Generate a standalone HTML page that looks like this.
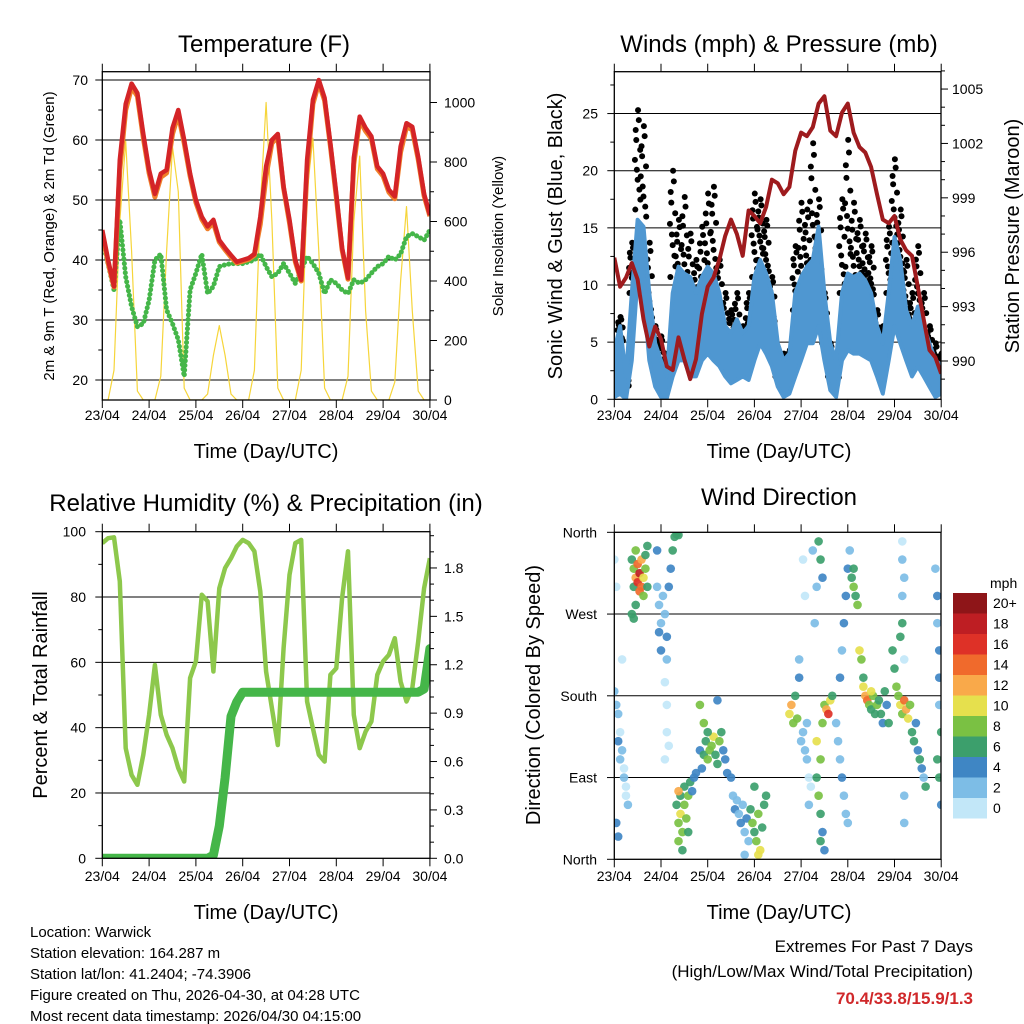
<!DOCTYPE html>
<html><head><meta charset="utf-8">
<style>
html,body{margin:0;padding:0;background:#fff;}
svg{display:block;font-family:"Liberation Sans",Arial,sans-serif;}
</style></head>
<body>
<svg id="chart" width="1024" height="1024" viewBox="0 0 1024 1024" xmlns="http://www.w3.org/2000/svg">
<defs>
<clipPath id="c1"><rect x="102.3" y="71.7" width="327.7" height="328.3"/></clipPath>
<clipPath id="c2"><rect x="614.3" y="71.7" width="326.7" height="327.6"/></clipPath>
<clipPath id="c3"><rect x="102.3" y="531.7" width="327.7" height="326.6"/></clipPath>
<clipPath id="c4"><rect x="614.3" y="532.3" width="326.7" height="327"/></clipPath>
</defs>
<rect width="1024" height="1024" fill="#fff"/>
<text x="264" y="52" font-size="24" text-anchor="middle">Temperature (F)</text>
<text x="779" y="52" font-size="24" text-anchor="middle">Winds (mph) &amp; Pressure (mb)</text>
<text x="266" y="511" font-size="24" text-anchor="middle">Relative Humidity (%) &amp; Precipitation (in)</text>
<text x="779" y="505" font-size="24" text-anchor="middle">Wind Direction</text>
<text x="266" y="458" font-size="20" text-anchor="middle">Time (Day/UTC)</text>
<text x="779" y="458" font-size="20" text-anchor="middle">Time (Day/UTC)</text>
<text x="266" y="919" font-size="20" text-anchor="middle">Time (Day/UTC)</text>
<text x="779" y="919" font-size="20" text-anchor="middle">Time (Day/UTC)</text>
<text transform="translate(54,236) rotate(-90)" font-size="15" text-anchor="middle">2m &amp; 9m T (Red, Orange) &amp; 2m Td (Green)</text>
<text transform="translate(503,236) rotate(-90)" font-size="15" text-anchor="middle">Solar Insolation (Yellow)</text>
<text transform="translate(562,236) rotate(-90)" font-size="20" text-anchor="middle">Sonic Wind &amp; Gust (Blue, Black)</text>
<text transform="translate(1019,236) rotate(-90)" font-size="20" text-anchor="middle">Station Pressure (Maroon)</text>
<text transform="translate(47,695) rotate(-90)" font-size="20" text-anchor="middle">Percent &amp; Total Rainfall</text>
<text transform="translate(540,695) rotate(-90)" font-size="20" text-anchor="middle">Direction (Colored By Speed)</text>
<g font-size="15">
<text x="30" y="937">Location: Warwick</text>
<text x="30" y="958">Station elevation: 164.287 m</text>
<text x="30" y="979">Station lat/lon: 41.2404; -74.3906</text>
<text x="30" y="1000">Figure created on Thu, 2026-04-30, at 04:28 UTC</text>
<text x="30" y="1021">Most recent data timestamp: 2026/04/30 04:15:00</text>
</g>
<g font-size="17" text-anchor="end">
<text x="973" y="952">Extremes For Past 7 Days</text>
<text x="973" y="977">(High/Low/Max Wind/Total Precipitation)</text>
<text x="973" y="1004" fill="#d0282a" font-weight="bold">70.4/33.8/15.9/1.3</text>
</g>
<g id="layer"></g>
</svg>
<script>
// ---------- data (3-hourly from 23/04 00 UTC) ----------
const dayLabels = ["23/04","24/04","25/04","26/04","27/04","28/04","29/04","30/04"];
const temp2m = [45,40,35.6,56.7,66,69.4,67.8,61,55,51,54.4,55,62,65,60,54.4,50,47.2,45.6,46.7,43.3,42,40.8,39.7,40,40.3,41,47.2,55.6,60,61,52.2,46.7,40,36.7,56.7,66.7,70,67,59.4,51,42,37,57,63.9,62,60.6,55.6,54.4,51.7,50.6,58.9,62.8,62.2,57.2,51,47.5];
const temp9m = [44.5,39.5,35.5,55,65,68.8,67.3,60.4,54.5,50.5,53.8,54.5,61,64.3,59.5,54,49.6,46.8,45.2,46.2,43,41.7,40.5,39.5,39.8,40.1,40.8,46,54,59.5,60.5,52,46.2,39.7,36.5,55,66,69.5,66.6,59,50.5,41.7,36.8,56,63.3,61.5,60.2,55.2,54,51.3,50.2,58,62.2,61.7,56.8,50.7,47.3];
const dewpt = [43.3,39.4,35,46.7,37.2,32.2,28.9,29.4,33.3,40,41,31.7,29.4,26.7,20.6,35,37.8,41,34.4,35.6,38.9,39.2,39.4,39.4,39.4,39.7,40,41,38.9,37.2,37.8,39.4,37.8,36.1,38.3,40.6,39.4,37.8,34.4,36.7,36.1,35,34.4,36.7,36.1,36.7,37.8,38.9,39.4,40.6,40,41,43.9,44.4,43.9,43.3,45];
const solar = [0,0,100,600,870,500,30,0, 0,0,80,500,850,700,40,0, 0,0,20,150,250,150,20,0, 0,0,100,650,1000,600,40,0, 0,0,100,700,880,500,40,0, 0,0,80,600,820,300,30,0, 0,0,60,400,650,300,30,0, 0];
const windHi = [4.3,6.4,2,9.3,15.7,15.1,9.3,4.9,3.4,2,9.3,11.6,11,10.7,9.3,10.7,11.6,11,9.3,6.4,5.8,7,5.8,6.4,10.7,12.2,11,9.3,4.9,3.4,4,9.3,10.7,11.6,12.2,15.1,9.3,4.9,3.4,9.3,11,10.7,11,10.4,9.3,6.4,4.9,9.3,14.2,12.2,7.8,6.4,8.1,6.4,4.9,3.4,3];
const windLo = [0.2,0.5,0,3.4,10.7,9.3,3.4,1.1,0.2,0.1,2,3.4,3.4,2,2,3.4,4,3.4,2.9,2,1.4,1.7,2,1.7,3.4,4.9,4,2.9,1.1,0.2,0.5,2,3.4,4.9,4.9,6.4,3.4,0.8,0.2,3.4,4.3,4,4,3.7,3.4,2,0.5,3.4,6.4,4.9,3.4,2,2.9,2,1.1,0.2,0.5];
const gustHi = [4.6,7.2,2,13.7,25.3,23.9,13.7,6.4,5.5,4,20,15.7,17.7,14.5,12.2,15.1,18,18.6,12.2,9.3,7.8,9.3,6.4,9.3,18,17.5,15.7,10.7,4.3,4,4.3,13.4,17.2,16.6,22.4,17.5,9.3,4.9,4,17.5,22.7,17.2,15.7,14.5,13.4,7.8,6.4,15.1,21,16.6,12.2,9.3,13.4,9.3,6.4,4.9,4];
const gustLo = [3.4,4.9,1.1,9.3,16.6,15.1,6.4,3.4,2,2,10.7,9.3,9.3,7.8,6.4,7.8,9.3,10.7,6.9,4.9,4,4.6,4,4.9,10.7,12.2,10.7,6.4,2,2.3,2.6,7.8,9.3,9.9,12.2,10.7,4.9,2,1.7,9.3,11.6,9.3,9.9,9.3,8.7,4,3.4,9.3,13.7,10.7,6.9,4.9,7.5,4.9,3.4,2,2];
const pressure = [995.7,994.1,994.6,995.4,994.5,992.3,990.8,991.9,991.2,989.7,989.5,991.3,990.1,989.0,990.1,992.6,994.1,994.6,995.6,996.9,997.8,997.0,995.8,998.3,998.0,997.6,998.5,1000.0,999.8,999.2,999.6,1001.6,1002.6,1002.4,1002.9,1004.2,1004.6,1002.7,1002.4,1003.7,1004.2,1002.6,1001.8,1001.5,1000.7,999.2,997.8,997.6,998.0,996.7,996.1,995.8,994.1,992.3,990.6,990.2,989.3];
const rhum = [96.5,98,98.3,84.8,33.7,25.5,22.5,31.7,43.9,59.2,43.9,37.8,33.7,27.6,23.5,55.2,60.3,80.7,78.7,57.2,82.7,88.9,91.9,95.5,97.5,96.5,94,81.7,57.2,46,34.7,64.4,86.8,96.5,97.5,48,39.8,31.7,29.6,56.2,58.2,79.7,94,43.9,33.7,38.8,41.9,56.2,60.3,62.3,67.4,54.1,48,52.1,66.4,82.7,91.9];
const precip = [0,0,0,0,0,0,0,0,0,0,0,0,0,0,0,0,0,0,0,0.02,0.2,0.5,0.88,0.97,1.03,1.03,1.03,1.03,1.03,1.03,1.03,1.03,1.03,1.03,1.03,1.03,1.03,1.03,1.03,1.03,1.03,1.03,1.03,1.03,1.03,1.03,1.03,1.03,1.03,1.03,1.03,1.03,1.03,1.03,1.03,1.05,1.3];
// wind direction samples: hour, direction (deg), speed (mph)
const dirHours = [9,10,10,11,11,12,12,13,13,14,14,15,15,16,16,17,17,11,9,10, 22,22,23,23,24,24,25,26,27,27,28,29,30,31,32,33, 26,27,27,28,26, 0,1,2,3,4,5,6,7,2,3,1,2,0,1,4,5,6, 32,33,33,34,34,35,35,36,36,37,38,38,39,40,41,42,33, 44,45,46,47,48,49,50,51,52,53,54,55,56,57,58,46,44,53,48, 60,61,62,63,64,65,66,67,68,69,70,71,72,73,74,75,76,77,78,72,74,67, 90,91,92,93,94,95,95,96,97,98,99,100,101,99,100,98,97,102,103,104, 104,105,106,107,104,106,107,108,109,110,111,112,106,108,105,106,107, 114,115,116,117,118,119,120,116,117,118,119,120,121, 122,123,124,125,123, 126,127,128,129,130,131,132,133,134,135,136,137,138,139,140,141,128,132, 143,144,145,146,147,148,149,150,151,152,153,154,155,156,157,158,159,160,147,148, 148,148,149,148,149,149,149, 165,166,166,167,167,167,168,166,167,168];
const dirDeg = [330,320,300,340,310,325,305,315,295,330,300,310,290,335,320,345,300,280,270,265, 340,300,280,250,230,260,290,270,245,220,300,320,340,355,358,357, 195,170,140,125,110, 185,170,160,140,120,100,80,60,130,110,40,25,330,300,220,90,70, 60,40,20,70,50,30,10,60,80,45,70,30,85,75,90,95,75, 120,100,115,130,110,120,125,135,115,105,130,140,120,110,95,150,170,175,140, 90,70,55,65,50,40,60,30,45,20,55,40,30,20,50,10,35,60,70,80,5,5, 160,170,150,180,155,220,200,130,140,120,110,90,80,150,60,290,330,340,260,300, 90,70,50,30,130,110,150,170,165,160,175,180,20,10,350,330,310, 150,130,110,90,70,50,40,200,230,260,290,320,340, 310,300,290,280,320, 230,220,200,180,175,170,165,180,160,170,175,160,150,185,170,150,190,185, 230,210,190,180,170,160,175,165,155,170,140,130,150,120,110,100,90,80,245,260, 350,330,310,290,220,70,40, 320,290,260,230,200,170,140,110,90,60];
const dirSpeed = [6,8,7,9,12,14,16,18,15,12,14,10,8,7,9,6,6,6,6,6, 4,3,2,4,4,3,2,2,4,3,4,5,6,7,6,7, 1,1,1,1,1, 2,3,2,1,2,1,1,2,4,3,4,5,1,1,1,2,1, 7,8,9,6,10,8,7,8,6,9,8,6,7,5,4,4,12, 5,4,6,7,8,9,8,10,7,6,8,7,5,4,4,9,8,4,6, 4,3,4,2,3,4,3,2,4,3,7,8,7,8,9,10,6,7,6,7,10,2, 10,12,8,7,8,3,4,2,2,2,2,1,1,2,3,1,1,2,2,2, 7,8,6,5,10,8,9,8,12,16,10,7,6,5,7,6,5, 3,2,3,4,3,2,3,4,3,4,5,4,3, 7,8,6,8,7, 10,8,7,12,14,8,7,9,6,8,7,6,5,7,4,6,10,10, 6,7,9,8,10,9,14,12,10,8,6,7,5,4,6,5,3,6,7,6, 1,2,2,2,1,2,2, 2,4,3,4,4,3,6,7,6,4];
const cbLabels = ["20+","18","16","14","12","10","8","6","4","2","0"];
const cbColors = ["#8e1518","#be1e23","#de3127","#f06a2c","#f9a94a","#e6e04d","#7ac143","#3c9f6c","#3f86c4","#7dbde6","#c2e7f8"];

// ---------- scales ----------
const hours = temp2m.map((_, i) => i * 3);
const xA = h => 102.3 + h / 24 * 46.8;
const xB = h => 614.3 + h / 24 * 46.7;
const yT = t => 80 + (70 - t) * 6;
const yS = s => 400 - s * 0.2975;
const yW = w => 399.3 - w * 11.43;
const yP = p => 361 - (p - 990) * 18.13;
const yR = r => 858.3 - r * 3.266;
const yPr = p => 858.3 - p * 161.3;
const yD = d => 859.3 - d * 0.9083;

const NS = "http://www.w3.org/2000/svg";
const layer = document.getElementById("layer");
function mk(tag, attrs, parent) {
  const e = document.createElementNS(NS, tag);
  for (const k in attrs) e.setAttribute(k, attrs[k]);
  (parent || layer).appendChild(e);
  return e;
}
function pts(xs, xf, vals, yf) { return vals.map((v, i) => xf(xs[i]).toFixed(1) + "," + yf(v).toFixed(1)).join(" "); }
function speedColor(s) { let i = Math.min(10, Math.floor(s / 2)); return cbColors[10 - i]; }

function frame(x, y, w, h, name) {
  const r = mk("rect", {x: x, y: y, width: w, height: h, fill: "none", stroke: "#000", "stroke-width": 1.3});
  
  
}
function hgrid(x1, x2, y, name) {
  const l = mk("line", {x1: x1, x2: x2, y1: y, y2: y, stroke: "#000", "stroke-width": 1});
  
  
}
function tick(x1, y1, x2, y2) {
  const l = mk("line", {x1: x1, y1: y1, x2: x2, y2: y2, stroke: "#000", "stroke-width": 1});
  
  
}
function label(x, y, txt, anchor, size, name) {
  const t = mk("text", {x: x, y: y, "text-anchor": anchor, "font-size": size});
  t.textContent = txt;
  
  
}
function dayAxis(xf, top, bottom, labY) {
  dayLabels.forEach((d, i) => {
    const x = xf(i * 24);
    tick(x, top, x, top - 8);
    tick(x, bottom, x, bottom + 8);
    label(x, labY, d, "middle", 14, "x-tick-label");
  });
}

// ================= Panel 1: Temperature =================
[20,30,40,50,60,70].forEach(v => hgrid(102.3, 430, yT(v), "temp-gridline"));
const g1 = mk("g", {"clip-path": "url(#c1)"});


const solarLine = mk("polyline", {points: pts(hours, xA, solar, yS), fill: "none", stroke: "#f6d53a", "stroke-width": 1.2, "stroke-linejoin": "round"}, g1);


const dpLine = mk("polyline", {points: pts(hours, xA, dewpt, yT), fill: "none", stroke: "#45b649", "stroke-width": 5, "stroke-dasharray": "0.1 4.5", "stroke-linecap": "round", "stroke-linejoin": "round"}, g1);


const t9Line = mk("polyline", {points: pts(hours, xA, temp9m, yT), fill: "none", stroke: "#f07f2a", "stroke-width": 5, "stroke-linejoin": "round"}, g1);


const t2Line = mk("polyline", {points: pts(hours, xA, temp2m, yT), fill: "none", stroke: "#d42427", "stroke-width": 4.5, "stroke-linejoin": "round"}, g1);


frame(102.3, 71.7, 327.7, 328.3, "temperature-frame");
for (let v = 20; v <= 70; v += 5) tick(102.3, yT(v), 102.3 - (v % 10 ? 4 : 7), yT(v));
[20,30,40,50,60,70].forEach(v => label(88, yT(v) + 5, String(v), "end", 14, "temp-y-tick-label"));
for (let v = 0; v <= 1000; v += 100) tick(430, yS(v), 430 + (v % 200 ? 4 : 7), yS(v));
[0,200,400,600,800,1000].forEach(v => label(444, yS(v) + 5, String(v), "start", 14, "solar-y-tick-label"));
dayAxis(xA, 71.7, 400, 420);

// ================= Panel 2: Winds =================
[5,10,15,20,25].forEach(v => hgrid(614.3, 941, yW(v), "wind-gridline"));
const g2 = mk("g", {"clip-path": "url(#c2)"});


const fracs = [0, 0.2, 0.4, 0.6, 0.8, 1, 0.1, 0.5, 0.9, 0.3, 0.7];
const dx = [-1.2, 0.9, -0.4, 1.3, -1.0, 0.2, 1.4, -1.4, 0.6, 0.0, -0.7];
hours.forEach((h, i) => {
  fracs.forEach((f, k) => {
    const v = gustLo[i] + (gustHi[i] - gustLo[i]) * f;
    const c = mk("circle", {cx: xB(h + dx[k]), cy: yW(v), r: 3, fill: "#000"}, g2);
    
    
  });
});
const windBand = mk("polygon", {points: pts(hours, xB, windHi, yW) + " " + pts(hours.slice().reverse(), xB, windLo.slice().reverse(), yW), fill: "#4f97d1", stroke: "#4f97d1", "stroke-width": 4, "stroke-linejoin": "round"}, g2);


const presLine = mk("polyline", {points: pts(hours, xB, pressure, yP), fill: "none", stroke: "#9e1b1e", "stroke-width": 4, "stroke-linejoin": "round"}, g2);


frame(614.3, 71.7, 326.7, 327.6, "winds-frame");
for (let v = 0; v <= 27.5; v += 2.5) tick(614.3, yW(v), 614.3 - (v % 5 ? 4 : 7), yW(v));
[0,5,10,15,20,25].forEach(v => label(598, yW(v) + 5, String(v), "end", 14, "wind-y-tick-label"));
for (let v = 989; v <= 1006; v += 1) tick(941, yP(v), 941 + ((v - 990) % 3 ? 4 : 7), yP(v));
[990,993,996,999,1002,1005].forEach(v => label(952, yP(v) + 5, String(v), "start", 14, "pressure-y-tick-label"));
dayAxis(xB, 71.7, 399.3, 420);

// ================= Panel 3: Humidity =================
[20,40,60,80].forEach(v => hgrid(102.3, 430, yR(v), "humidity-gridline"));
const g3 = mk("g", {"clip-path": "url(#c3)"});


const rhLine = mk("polyline", {points: pts(hours, xA, rhum, yR), fill: "none", stroke: "#8dc84c", "stroke-width": 4.5, "stroke-linejoin": "round"}, g3);


const prLine = mk("polyline", {points: pts(hours, xA, precip, yPr), fill: "none", stroke: "#45b649", "stroke-width": 9, "stroke-linejoin": "round", "stroke-linecap": "round"}, g3);


frame(102.3, 531.7, 327.7, 326.6, "humidity-frame");
for (let v = 0; v <= 100; v += 10) tick(102.3, yR(v), 102.3 - (v % 20 ? 4 : 7), yR(v));
[0,20,40,60,80,100].forEach(v => label(86, yR(v) + 5, String(v), "end", 14, "humidity-y-tick-label"));
for (let k = 0; k <= 20; k++) tick(430, yPr(k / 10), 430 + (k % 3 ? 4 : 7), yPr(k / 10));
["0.0","0.3","0.6","0.9","1.2","1.5","1.8"].forEach(s => label(444, yPr(parseFloat(s)) + 5, s, "start", 14, "precip-y-tick-label"));
dayAxis(xA, 531.7, 858.3, 881);

// ================= Panel 4: Wind direction =================
[90,180,270].forEach(v => hgrid(614.3, 941, yD(v), "direction-gridline"));
const g4 = mk("g", {"clip-path": "url(#c4)"});


dirHours.forEach((h, i) => {
  const c = mk("circle", {cx: xB(h), cy: yD(dirDeg[i]), r: 4.3, fill: speedColor(dirSpeed[i]), "fill-opacity": 0.92}, g4);
  
  
});
frame(614.3, 532.3, 326.7, 327, "direction-frame");
[["North",0],["East",90],["South",180],["West",270],["North",360]].forEach(p => {
  tick(614.3, yD(p[1]), 607, yD(p[1]));
  label(597, yD(p[1]) + 5, p[0], "end", 14, "direction-y-tick-label");
});
dayAxis(xB, 532.3, 859.3, 881);

// colorbar
label(990, 588, "mph", "start", 14, "colorbar-title");
cbColors.forEach((c, i) => {
  const r = mk("rect", {x: 953, y: 593 + i * 20.5, width: 34, height: 20.5, fill: c});
  
  
  label(993, 593 + i * 20.5 + 15, cbLabels[i], "start", 14, "colorbar-label");
});
</script>
</body></html>
